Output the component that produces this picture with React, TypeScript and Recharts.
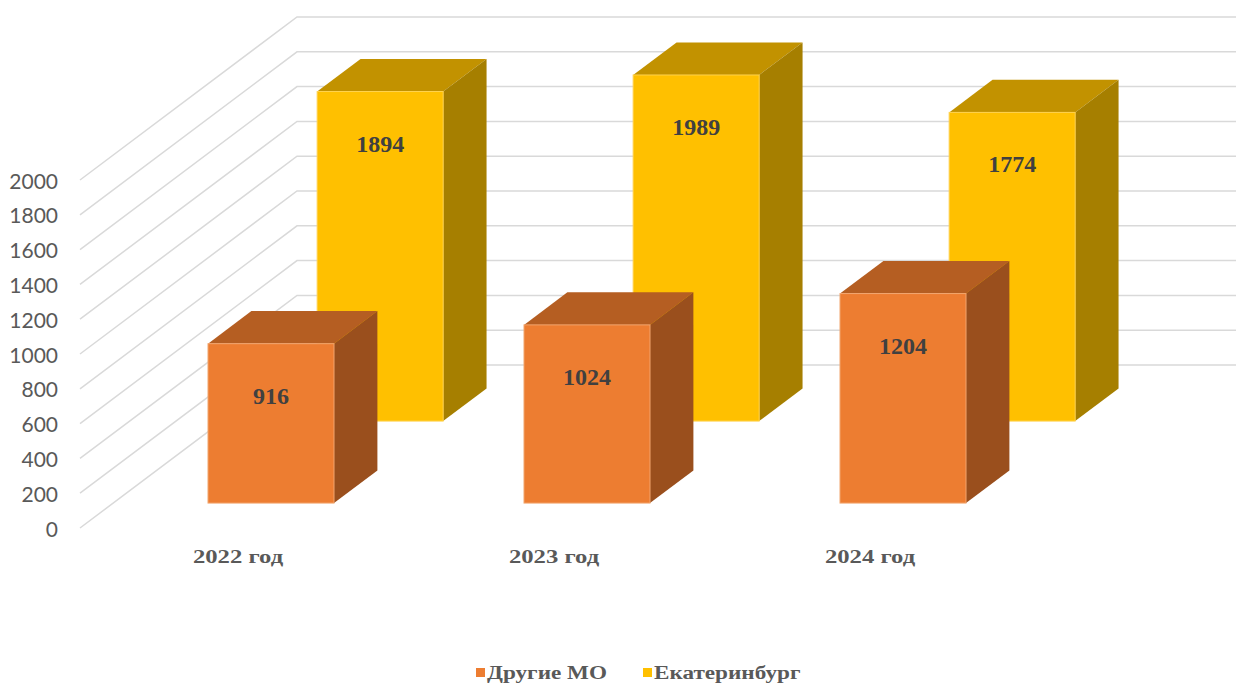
import { BarChart, Bar, XAxis, YAxis, CartesianGrid } from "recharts"

const years = ["2022 год", "2023 год", "2024 год"]
const drugieMO = [916, 1024, 1204]
const ekaterinburg = [1894, 1989, 1774]
const yTicks = [0, 200, 400, 600, 800, 1000, 1200, 1400, 1600, 1800, 2000]
const seriesNames = ["Другие МО", "Екатеринбург"]

const data = years.map((year, i) => ({ year, other: drugieMO[i], ekb: ekaterinburg[i] }))

// perspective of the 3d box: full depth of the floor, in px
const WALL_DX = 217
const WALL_DY = 163
const BAR_DEPTH = 0.2
const TEXT_STRETCH = 1.22

const orange = { face: "#ED7D31", top: "#B55E22", side: "#9A4F1D", edge: "#F2A56E" }
const yellow = { face: "#FFC000", top: "#C29200", side: "#A67F00", edge: "#FFD24D" }

function Box3D(props: any) {
  const { x, y, width, height, shift, colors } = props
  let value = props.value
  if (Array.isArray(value)) value = value[1]
  const ox = WALL_DX * shift
  const oy = WALL_DY * shift
  const dx = WALL_DX * BAR_DEPTH
  const dy = WALL_DY * BAR_DEPTH
  const fx = x + ox
  const fy = y - oy
  const fb = y + height - oy
  const r = fx + width
  return (
    <g>
      <polygon points={`${fx},${fy} ${fx + dx},${fy - dy} ${r + dx},${fy - dy} ${r},${fy}`} fill={colors.top} />
      <polygon points={`${r},${fy} ${r + dx},${fy - dy} ${r + dx},${fb - dy} ${r},${fb}`} fill={colors.side} />
      <rect x={fx} y={fy} width={width} height={fb - fy} fill={colors.face} stroke={colors.edge} strokeWidth={1} />
      <text
        x={fx + width / 2}
        y={fy + 52}
        textAnchor="middle"
        dominantBaseline="central"
        fontFamily="'Liberation Serif', serif"
        fontWeight="bold"
        fontSize={24}
        fill="#404040"
      >
        {value}
      </text>
    </g>
  )
}

function WallLine(props: any) {
  const { x1, y1, x2 } = props
  return (
    <path
      key={props.key}
      d={`M${x1},${y1} L${x1 + WALL_DX},${y1 - WALL_DY} L${x2 + WALL_DX},${y1 - WALL_DY}`}
      fill="none"
      stroke="#D9D9D9"
      strokeWidth={1.5}
    />
  )
}

function YearTick(props: any) {
  const { x, y, payload } = props
  return (
    <g transform={`translate(${x},${y - 9}) scale(1.3,1)`}>
      <text
        textAnchor="middle"
        dominantBaseline="central"
        fontFamily="'Liberation Serif', serif"
        fontWeight="bold"
        fontSize={19}
        fill="#595959"
      >
        {payload.value}
      </text>
    </g>
  )
}

function ValueTick(props: any) {
  const { x, y, payload } = props
  return (
    <text x={x} y={y} textAnchor="end" dominantBaseline="central" fontFamily="Lato, sans-serif" fontSize={21} fill="#595959">
      {payload.value}
    </text>
  )
}

const legendX = [476, 643]
const legendColors = [orange.face, yellow.face]

export default function App() {
  return (
    <div style={{ position: "absolute", left: 0, top: 0, width: 1236, height: 688, background: "#fff" }}>
      <BarChart
        width={1236}
        height={600}
        data={data}
        margin={{ top: 180, right: 208, bottom: 32, left: 0 }}
        barCategoryGap="30%"
      >
        <CartesianGrid xAxisId="front" vertical={false} horizontal={WallLine} />
        <XAxis xAxisId="front" dataKey="year" axisLine={false} tickLine={false} height={40} tick={<YearTick />} />
        <XAxis xAxisId="back" dataKey="year" hide />
        <YAxis
          domain={[0, 2000]}
          ticks={yTicks}
          width={80}
          axisLine={false}
          tickLine={false}
          tickMargin={16}
          tick={<ValueTick />}
        />
        <Bar
          xAxisId="back"
          dataKey="ekb"
          name={seriesNames[1]}
          isAnimationActive={false}
          shape={(p: any) => <Box3D {...p} shift={0.656} colors={yellow} />}
        />
        <Bar
          xAxisId="front"
          dataKey="other"
          name={seriesNames[0]}
          isAnimationActive={false}
          shape={(p: any) => <Box3D {...p} shift={0.153} colors={orange} />}
        />
      </BarChart>
      <svg width={1236} height={40} style={{ position: "absolute", left: 0, top: 655 }}>
        {seriesNames.map((name, i) => (
          <g key={name}>
            <rect x={legendX[i]} y={13} width={9} height={9} fill={legendColors[i]} />
            <g transform={`translate(${legendX[i] + 11},${18}) scale(${TEXT_STRETCH},1)`}>
              <text
                dominantBaseline="central"
                fontFamily="'Liberation Serif', serif"
                fontWeight="bold"
                fontSize={19}
                fill="#595959"
              >
                {name}
              </text>
            </g>
          </g>
        ))}
      </svg>
    </div>
  )
}
